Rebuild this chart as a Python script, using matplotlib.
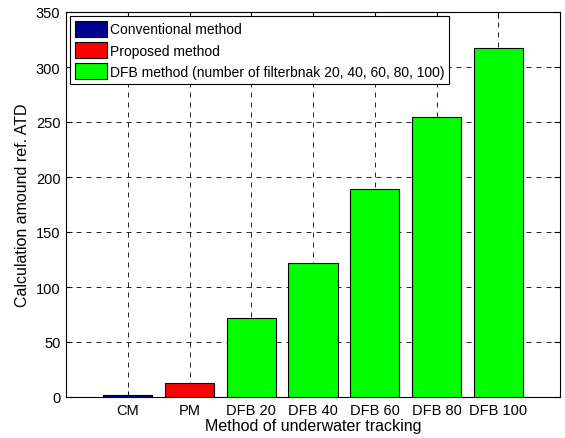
import numpy as np
import matplotlib.pyplot as plt
from matplotlib.patches import Patch

plt.rcParams['font.family'] = ['Liberation Sans', 'DejaVu Sans']

# data
methods = ['CM', 'PM', 'DFB 20', 'DFB 40', 'DFB 60', 'DFB 80', 'DFB 100']
amounts = [1.5, 13, 72, 122, 189, 255, 317]
bar_colors = [(0, 0, 0.5625), (1, 0, 0), (0, 1, 0), (0, 1, 0), (0, 1, 0), (0, 1, 0), (0, 1, 0)]
legend_labels = ['Conventional method', 'Proposed method',
                 'DFB method (number of filterbnak 20, 40, 60, 80, 100)']
y_ticks = [0, 50, 100, 150, 200, 250, 300, 350]

fig = plt.figure(figsize=(5.65, 4.39), dpi=100)
ax = fig.add_axes([66/565, 41/439, 494/565, 385/439])

x = np.arange(1, len(methods) + 1)
ax.bar(x, amounts, width=0.8, color=bar_colors, edgecolor='black', linewidth=0.8, zorder=3)

ax.set_xlim(0, 8)
ax.set_ylim(0, 350)
ax.set_xticks(x)
ax.set_xticklabels(methods)
ax.set_yticks(y_ticks)
ax.tick_params(direction='in', top=True, right=True, labelsize=10.5, length=4, pad=4)
ax.grid(True, linestyle=(0, (6, 6)), color='black', linewidth=0.6, zorder=0)
ax.set_axisbelow(True)
for s in ax.spines.values():
    s.set_linewidth(0.8)

ax.set_xlabel('Method of underwater tracking', fontsize=11.5, labelpad=1)
ax.set_ylabel('Calculation amound ref. ATD', fontsize=11.5, labelpad=4)

handles = [Patch(facecolor=bar_colors[i], edgecolor='black', linewidth=0.8) for i in (0, 1, 2)]
leg = ax.legend(handles, legend_labels, loc='upper left', fontsize=10, fancybox=False,
                framealpha=1, edgecolor='black', handlelength=2.3, handleheight=1.35,
                handletextpad=0.2, labelspacing=0.4, borderpad=0.35, borderaxespad=0.3)
leg.get_frame().set_linewidth(0.8)
leg.set_zorder(5)

fig.savefig('out.png', dpi=100)
